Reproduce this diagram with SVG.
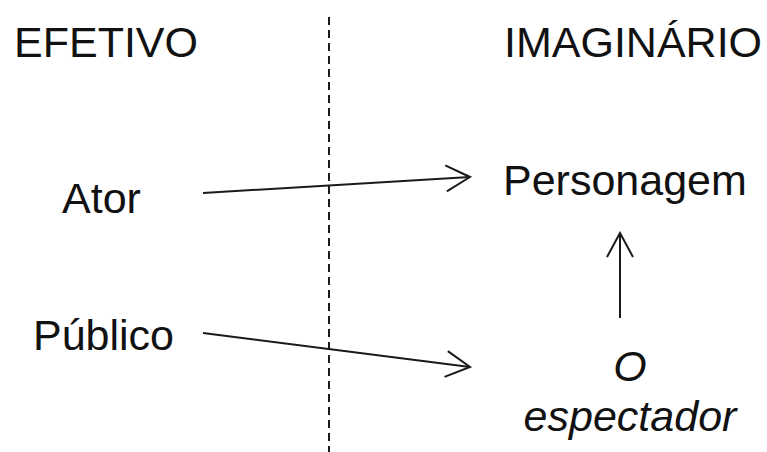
<svg xmlns="http://www.w3.org/2000/svg" width="767" height="452" viewBox="0 0 767 452">
<defs>
<style>
.t{font-family:"Liberation Sans",Arial,sans-serif;font-size:43px;fill:#111;}
.i{font-style:italic;}
.c{stroke:#1a1a1a;stroke-width:2;fill:none;}
.d{stroke:#1a1a1a;stroke-width:2;stroke-dasharray:8 5;fill:none;}
</style>
<marker id="ah" viewBox="-27 -15 29 30" refX="0" refY="0" markerWidth="29" markerHeight="30" markerUnits="userSpaceOnUse" orient="auto">
<path d="M-24,-13 L0,0 L-24,13" fill="none" stroke="#1a1a1a" stroke-width="2"/>
</marker>
</defs>
<rect width="767" height="452" fill="#fff"/>
<g id="divider"><line class="d" x1="329" y1="17" x2="329" y2="452"/></g>
<g id="efetivo"><text class="t" x="14" y="57">EFETIVO</text></g>
<g id="imaginario"><text class="t" x="504" y="57">IMAGINÁRIO</text></g>
<g id="ator"><text class="t" x="62" y="213">Ator</text></g>
<g id="personagem"><text class="t" x="503" y="195">Personagem</text></g>
<g id="publico"><text class="t" x="33" y="350">Público</text></g>
<g id="espectador"><text class="t i" x="630" y="381" text-anchor="middle">O</text><text class="t i" x="630" y="431" text-anchor="middle">espectador</text></g>
<g id="connectors">
<line class="c" x1="203" y1="193" x2="470" y2="177" marker-end="url(#ah)"/>
<line class="c" x1="203" y1="333" x2="470" y2="367" marker-end="url(#ah)"/>
<line class="c" x1="620" y1="318" x2="620" y2="233" marker-end="url(#ah)"/>
</g>
</svg>
